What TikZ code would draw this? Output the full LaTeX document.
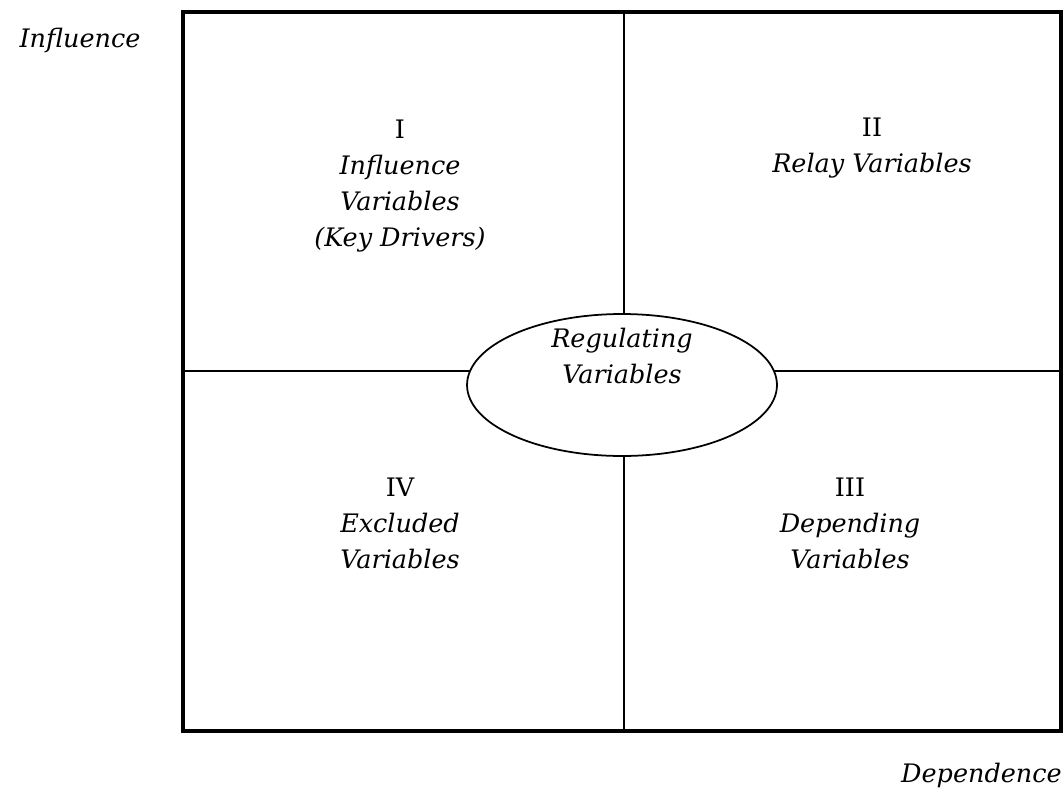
\documentclass[tikz,border=0pt]{standalone}
\usepackage{fontspec}
\setmainfont{DejaVu Serif}
\usetikzlibrary{shapes.geometric}
\begin{document}
\begin{tikzpicture}[
      x=0.02cm, y=-0.02cm,
      quad/.style={font=\fontsize{14.5}{20.5}\selectfont, align=center, text=black},
      axis/.style={font=\fontsize{14.5}{20.5}\selectfont\itshape, inner sep=0pt}
    ]
      \useasboundingbox (0,0) rectangle (1064,791);
      % corners of the grid
      \coordinate (nw) at (183,12);
      \coordinate (se) at (1061,731);
      \coordinate (top) at (624,12);
      \coordinate (bot) at (624,731);
      \coordinate (lft) at (183,371);
      \coordinate (rgt) at (1061,371);
      \draw[line width=1pt] (top) -- (bot);
      \draw[line width=1pt] (lft) -- (rgt);
      \draw[line width=2.2pt] (nw) rectangle (se);
      \node[ellipse, draw, line width=1pt, fill=white, inner sep=0pt,
            minimum width=6.2cm, minimum height=2.84cm] (reg) at (622,385) {};
      \node[quad] (regtext) at (622,356) {\itshape Regulating\\\itshape Variables};
      % quadrant labels
      \node[quad] (q1) at (400,186) {I\\\itshape Influence\\\itshape Variables\\\itshape (Key Drivers)};
      \node[quad] (q2) at (872,148) {II\\\itshape Relay Variables};
      \node[quad] (q4) at (400,523) {IV\\\itshape Excluded\\\itshape Variables};
      \node[quad] (q3) at (850,523) {III\\\itshape Depending\\\itshape Variables};
      \node[axis] (infl) at (80,40) {Influence};
      \node[axis, anchor=east] (dep) at (1062,775) {Dependence};
    \end{tikzpicture}
\end{document}
